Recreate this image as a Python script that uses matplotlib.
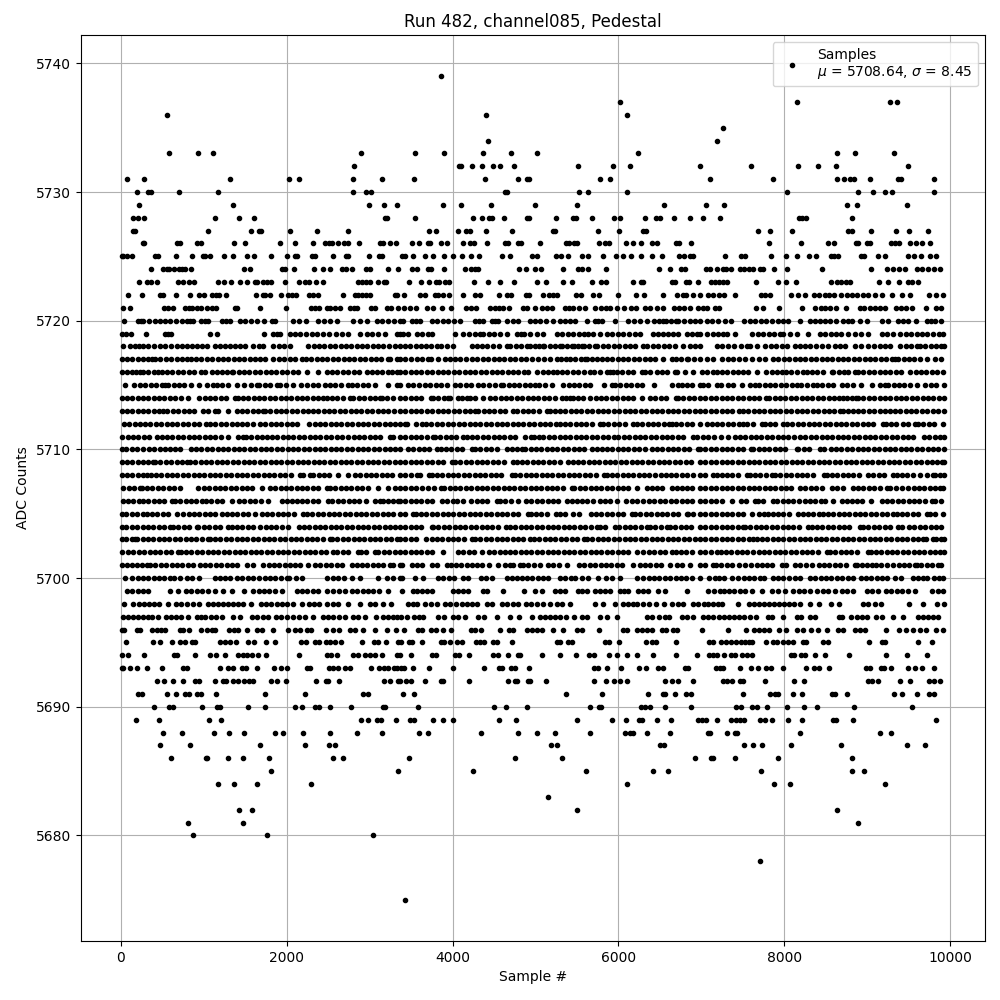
# -*- coding: utf-8 -*-
import matplotlib
matplotlib.use("Agg")
import matplotlib.pyplot as plt

# sample numbers, one list per ADC level
s5739 = [3863]
s5737 = [6022, 8157, 9278, 9363]
s5736 = [559, 4406, 6107]
s5735 = [7264]
s5734 = [4430, 7192]
s5733 = [583, 933, 1113, 2898, 3550, 3900, 4370, 4708, 5021, 6239, 8639, 8856, 9327]
s5732 = [2814, 4081, 4105, 4237, 4358, 4491, 4575, 4744, 5516, 5938, 6143, 6980, 7602, 8169, 8410, 8627, 9496]
s5731 = [76, 281, 1319, 2030, 2151, 2802, 3152, 3538, 4394, 4792, 4901, 4925, 5781, 5902, 7108, 7867, 8639, 8724, 8796, 8844, 9037, 9375, 9411, 9809]
s5730 = [197, 330, 358, 703, 1174, 2802, 2959, 3019, 4635, 4659, 5528, 5636, 6107, 8036, 8892, 9073, 9218, 9303, 9809]
s5729 = [221, 1355, 2995, 3176, 3333, 3888, 4105, 4466, 4997, 5504, 6553, 7059, 7276, 8760, 8880, 9483]
s5728 = [149, 209, 281, 1138, 1427, 1608, 3188, 3212, 3550, 4249, 4358, 4442, 4479, 4623, 4901, 4925, 5250, 5455, 5492, 5685, 5950, 6022, 6324, 6456, 6505, 6673, 6866, 7023, 7228, 8181, 8217, 8265, 8820]
s5727 = [149, 173, 1053, 1572, 1668, 1692, 2042, 2368, 2742, 3719, 3803, 4068, 4165, 4213, 4406, 4720, 5214, 5238, 5757, 6010, 6300, 6336, 7687, 7831, 8097, 8772, 8820, 9049, 9351, 9507, 9737]
s5726 = [269, 281, 679, 716, 921, 969, 1367, 1499, 1922, 2102, 2320, 2464, 2512, 2549, 2621, 2693, 2742, 2874, 3128, 3164, 3248, 3321, 3514, 3598, 3707, 3731, 3863, 3936, 4129, 4213, 4261, 4418, 4635, 4672, 4792, 4828, 5057, 5371, 5407, 5467, 5504, 5769, 5841, 5890, 6095, 6179, 6275, 6408, 6468, 6698, 6734, 6879, 7819, 8205, 8531, 8603, 8868, 8892, 9001, 9037, 9291, 9339, 9387, 9520, 9592, 9664, 9761]
s5725 = [14, 28, 68, 137, 414, 450, 667, 860, 993, 1017, 1077, 1246, 1355, 1523, 1608, 1813, 2006, 2102, 2126, 2307, 2344, 2561, 2717, 2742, 2995, 3116, 3152, 3393, 3429, 3526, 3671, 3767, 3900, 4008, 4117, 4225, 4322, 4599, 4696, 4961, 5021, 5250, 5311, 5395, 5564, 5636, 5817, 5970, 6058, 6155, 6275, 6408, 6529, 6734, 6794, 6866, 6903, 7289, 7481, 7530, 7843, 8024, 8157, 8302, 8386, 8567, 8603, 8651, 8929, 8965, 9134, 9218, 9496, 9568, 9652, 9761, 9833]
s5724 = [366, 511, 559, 583, 643, 703, 740, 776, 848, 1487, 1560, 1946, 1982, 2090, 2332, 2440, 2525, 2669, 2717, 2790, 2959, 3007, 3224, 3345, 3514, 3574, 3707, 3743, 3900, 4153, 4225, 4274, 4310, 4804, 4889, 4997, 5069, 5335, 5516, 5564, 5636, 5853, 6493, 6625, 6758, 6806, 7059, 7108, 7192, 7264, 7301, 7361, 7469, 7518, 7578, 7626, 7711, 7747, 7879, 8036, 8458, 9049, 9242, 9315, 9387, 9459, 9604, 9664, 9737, 9809, 9881]
s5723 = [221, 318, 366, 438, 691, 752, 824, 884, 1174, 1246, 1331, 1439, 1523, 1620, 1644, 1717, 1765, 1813, 1982, 2151, 2223, 2271, 2356, 2440, 2862, 2910, 2959, 3007, 3104, 3176, 3200, 3478, 3622, 3719, 3803, 3839, 3912, 3960, 4261, 4430, 4575, 4744, 5021, 5130, 5335, 5443, 5685, 5793, 5853, 6179, 6275, 6300, 6649, 6685, 6818, 6854, 6963, 7120, 7168, 7216, 7264, 7313, 7662, 7928, 8024, 8145, 8567, 8639, 8688, 8748, 8796, 9146, 9254, 9387, 9496, 9544, 9616]
s5722 = [88, 257, 474, 511, 667, 836, 945, 1005, 1101, 1150, 1186, 1270, 1632, 1717, 1741, 1801, 1934, 2018, 2066, 2114, 2271, 2320, 2380, 2681, 2826, 2862, 2910, 2959, 3007, 3308, 3333, 3417, 3610, 3671, 3791, 3827, 3888, 3960, 4129, 4274, 4334, 4563, 4659, 4708, 4889, 4925, 5094, 5166, 5214, 5262, 5492, 5552, 5697, 5769, 6000, 6215, 6312, 6541, 6710, 6782, 6818, 6903, 6983, 7084, 7144, 7216, 7276, 7409, 7723, 7771, 7831, 8084, 8169, 8253, 8362, 8422, 8494, 8543, 8603, 8688, 8760, 8820, 8880, 8953, 9013, 9097, 9182, 9303, 9423, 9520, 9749, 9833, 9918]
s5721 = [28, 113, 523, 571, 631, 776, 824, 860, 921, 969, 1041, 1101, 1150, 1379, 1403, 1680, 1994, 2295, 2344, 2392, 2488, 2525, 2585, 2645, 2766, 2814, 2850, 3019, 3067, 3212, 3260, 3345, 3417, 3490, 3562, 3695, 3767, 3876, 3984, 4165, 4225, 4286, 4454, 4515, 4563, 4611, 4684, 4852, 4901, 4997, 5082, 5142, 5202, 5359, 5407, 5455, 5528, 5600, 5721, 5793, 5853, 5902, 5986, 6071, 6155, 6215, 6324, 6384, 6468, 6541, 6673, 6734, 6794, 6866, 6963, 7023, 7071, 7168, 7216, 7662, 7747, 7940, 8217, 8374, 8446, 8494, 8555, 8627, 8748, 8917, 8965, 9037, 9097, 9158, 9218, 9351, 9411, 9471, 9544, 9713, 9833, 9893]
s5720 = [40, 209, 240, 269, 342, 410, 470, 530, 590, 660, 731, 792, 835, 872, 969, 1010, 1050, 1214, 1265, 1315, 1435, 1500, 1570, 1636, 1729, 1817, 1857, 2078, 2151, 2235, 2380, 2450, 2525, 2601, 2802, 2880, 2963, 3083, 3150, 3215, 3290, 3365, 3405, 3506, 3560, 3606, 3747, 3815, 3880, 3950, 4020, 4089, 4270, 4320, 4370, 4470, 4515, 4551, 4659, 4732, 4792, 4933, 4995, 5060, 5130, 5214, 5295, 5360, 5420, 5476, 5624, 5717, 5760, 5797, 5958, 6119, 6190, 6259, 6348, 6428, 6490, 6541, 6570, 6635, 6700, 6720, 6790, 6860, 6925, 6983, 7063, 7130, 7205, 7285, 7361, 7518, 7586, 7650, 7720, 7785, 7850, 7920, 7988, 8048, 8189, 8310, 8370, 8430, 8490, 8551, 8623, 8712, 8765, 8812, 8912, 8993, 9174, 9254, 9375, 9430, 9496, 9588, 9717, 9770, 9817, 9897]
s5719 = [14, 60, 118, 305, 526, 565, 607, 1073, 1154, 1729, 1837, 1880, 1918, 2038, 2100, 2165, 2230, 2300, 2370, 2440, 2510, 2590, 2665, 2742, 2882, 2963, 3023, 3104, 3184, 3325, 3365, 3405, 3466, 3566, 3635, 3707, 3755, 4032, 4129, 4195, 4265, 4330, 4370, 4435, 4505, 4571, 4652, 4780, 4820, 4860, 4933, 5015, 5094, 5254, 5320, 5390, 5455, 5524, 5580, 5636, 5697, 5777, 5857, 5925, 5990, 6060, 6125, 6195, 6259, 6420, 6480, 6541, 6600, 6661, 6722, 6822, 6890, 6945, 6983, 7063, 7144, 7205, 7264, 7313, 7405, 7606, 7687, 7747, 7815, 7880, 7945, 7988, 8068, 8149, 8289, 8430, 8495, 8560, 8625, 8690, 8770, 8852, 8932, 9013, 9174, 9245, 9315, 9395, 9465, 9530, 9600, 9660, 9717, 9797, 9865, 9915]
s5718 = [28, 108, 165, 220, 270, 330, 395, 465, 530, 600, 680, 736, 795, 860, 920, 980, 1033, 1133, 1190, 1250, 1310, 1375, 1435, 1500, 1596, 1660, 1717, 1837, 1905, 1970, 2038, 2259, 2325, 2385, 2450, 2520, 2580, 2650, 2710, 2780, 2845, 2905, 2970, 3035, 3095, 3165, 3230, 3300, 3365, 3425, 3490, 3555, 3615, 3680, 3745, 3807, 3855, 3930, 4008, 4229, 4290, 4355, 4420, 4485, 4560, 4651, 4692, 4760, 4830, 4900, 4935, 4995, 5045, 5085, 5100, 5170, 5235, 5300, 5320, 5380, 5440, 5460, 5510, 5560, 5590, 5650, 5720, 5737, 5817, 5880, 5945, 6010, 6075, 6140, 6205, 6300, 6348, 6412, 6480, 6545, 6610, 6680, 6780, 6860, 6925, 6983, 7184, 7255, 7320, 7400, 7480, 7546, 7586, 7674, 7767, 7840, 7905, 7975, 8036, 8129, 8190, 8249, 8310, 8385, 8460, 8530, 8611, 8670, 8732, 8852, 8930, 9013, 9081, 9150, 9210, 9274, 9395, 9465, 9530, 9596, 9636, 9700, 9765, 9830, 9890, 9925]
s5717 = [14, 75, 135, 205, 270, 330, 378, 410, 475, 540, 605, 670, 735, 792, 840, 905, 970, 1035, 1100, 1165, 1230, 1295, 1360, 1425, 1490, 1555, 1620, 1680, 1738, 1837, 1905, 1970, 2038, 2098, 2179, 2227, 2290, 2360, 2425, 2490, 2555, 2620, 2685, 2750, 2815, 2880, 2945, 3010, 3075, 3140, 3224, 3244, 3325, 3365, 3430, 3495, 3565, 3635, 3707, 3735, 3827, 3908, 3970, 4030, 4089, 4157, 4237, 4300, 4365, 4430, 4495, 4560, 4625, 4690, 4755, 4820, 4885, 4953, 5033, 5100, 5174, 5254, 5310, 5367, 5415, 5480, 5545, 5596, 5620, 5680, 5736, 5797, 5860, 5925, 5990, 6058, 6119, 6185, 6250, 6315, 6380, 6445, 6541, 6641, 6700, 6760, 6822, 6842, 6910, 6983, 7063, 7136, 7244, 7325, 7385, 7455, 7526, 7606, 7690, 7767, 7867, 7930, 7995, 8060, 8125, 8190, 8255, 8320, 8385, 8450, 8515, 8580, 8645, 8710, 8775, 8840, 8905, 8970, 9035, 9100, 9165, 9230, 9295, 9335, 9375, 9440, 9505, 9570, 9635, 9717, 9817, 9897]
s5716 = [14, 68, 137, 180, 229, 269, 330, 395, 450, 490, 555, 620, 685, 750, 815, 880, 970, 1009, 1093, 1154, 1215, 1280, 1335, 1355, 1420, 1485, 1550, 1615, 1680, 1745, 1810, 1875, 1940, 2005, 2070, 2135, 2239, 2380, 2480, 2545, 2610, 2675, 2740, 2805, 2870, 2963, 3023, 3085, 3150, 3215, 3264, 3325, 3365, 3430, 3495, 3560, 3625, 3690, 3755, 3820, 3885, 3950, 4015, 4080, 4145, 4210, 4275, 4340, 4405, 4470, 4535, 4600, 4665, 4730, 4795, 4860, 4913, 5021, 5085, 5150, 5214, 5254, 5320, 5385, 5450, 5515, 5580, 5656, 5709, 5780, 5857, 5897, 5938, 5978, 6045, 6110, 6175, 6279, 6320, 6385, 6460, 6521, 6585, 6680, 6703, 6800, 6903, 7003, 7070, 7144, 7184, 7250, 7315, 7380, 7445, 7506, 7566, 7666, 7779, 7850, 7916, 7968, 8020, 8085, 8150, 8221, 8269, 8335, 8400, 8465, 8571, 8591, 8655, 8720, 8772, 8852, 8892, 8955, 9020, 9085, 9150, 9215, 9280, 9345, 9410, 9516, 9588, 9650, 9715, 9780, 9845, 9920]
s5715 = [52, 161, 229, 295, 360, 425, 490, 530, 571, 635, 700, 765, 841, 945, 1041, 1105, 1160, 1214, 1294, 1395, 1483, 1565, 1644, 1668, 1735, 1800, 1877, 1918, 1985, 2078, 2167, 2240, 2320, 2380, 2460, 2521, 2585, 2650, 2742, 2782, 2850, 2915, 2980, 3063, 3220, 3325, 3365, 3465, 3526, 3598, 3665, 3730, 3795, 3860, 3928, 4028, 4095, 4160, 4225, 4310, 4362, 4442, 4511, 4590, 4611, 4675, 4740, 4805, 4870, 4935, 4993, 5045, 5114, 5194, 5335, 5400, 5465, 5530, 5595, 5656, 5825, 5918, 5958, 6025, 6090, 6155, 6220, 6280, 6428, 6641, 6722, 6770, 6822, 6883, 6983, 7023, 7084, 7184, 7232, 7325, 7385, 7486, 7586, 7646, 7699, 7767, 7830, 7895, 7960, 8025, 8090, 8149, 8197, 8270, 8350, 8390, 8460, 8530, 8591, 8692, 8760, 8832, 8925, 9061, 9154, 9214, 9254, 9320, 9385, 9450, 9515, 9604, 9697, 9765, 9830, 9922]
s5714 = [14, 70, 135, 200, 265, 330, 395, 460, 525, 590, 655, 720, 809, 945, 1010, 1075, 1140, 1205, 1270, 1375, 1415, 1475, 1536, 1600, 1665, 1730, 1795, 1860, 1925, 1990, 2055, 2120, 2185, 2250, 2315, 2380, 2440, 2480, 2545, 2610, 2675, 2762, 2802, 2870, 2935, 3000, 3065, 3124, 3144, 3212, 3280, 3365, 3430, 3495, 3560, 3625, 3735, 3767, 3830, 3895, 3948, 3968, 4068, 4109, 4169, 4209, 4275, 4362, 4450, 4515, 4580, 4645, 4710, 4775, 4840, 4905, 4970, 5035, 5100, 5165, 5230, 5315, 5363, 5415, 5455, 5516, 5568, 5658, 5725, 5790, 5855, 5920, 5985, 6050, 6115, 6180, 6280, 6380, 6445, 6510, 6575, 6700, 6720, 6785, 6850, 6915, 6983, 7050, 7115, 7180, 7245, 7310, 7375, 7440, 7505, 7570, 7635, 7700, 7779, 7819, 7885, 7950, 8015, 8080, 8145, 8210, 8275, 8340, 8405, 8470, 8535, 8600, 8665, 8712, 8752, 8820, 8872, 8892, 8955, 9020, 9085, 9150, 9215, 9280, 9345, 9410, 9475, 9540, 9605, 9670, 9735, 9800, 9865, 9922]
s5713 = [14, 70, 135, 200, 265, 330, 395, 460, 510, 559, 625, 690, 755, 820, 885, 993, 1053, 1133, 1174, 1294, 1395, 1460, 1525, 1590, 1655, 1716, 1736, 1800, 1865, 1930, 1995, 2060, 2125, 2190, 2255, 2320, 2380, 2445, 2510, 2575, 2640, 2705, 2770, 2835, 2900, 2965, 3030, 3095, 3160, 3225, 3290, 3365, 3430, 3495, 3560, 3625, 3690, 3755, 3820, 3885, 3950, 4015, 4080, 4145, 4210, 4270, 4310, 4375, 4440, 4505, 4570, 4635, 4724, 4780, 4845, 4910, 4975, 5040, 5134, 5174, 5234, 5295, 5360, 5425, 5490, 5555, 5620, 5685, 5750, 5815, 5880, 5945, 6010, 6075, 6140, 6205, 6270, 6335, 6400, 6465, 6530, 6595, 6660, 6725, 6790, 6855, 6920, 6983, 7050, 7115, 7180, 7245, 7310, 7375, 7457, 7498, 7565, 7630, 7695, 7760, 7825, 7890, 7955, 8020, 8085, 8150, 8215, 8280, 8345, 8410, 8475, 8540, 8605, 8670, 8712, 8772, 8824, 8890, 8955, 9020, 9085, 9150, 9215, 9282, 9335, 9400, 9465, 9530, 9595, 9660, 9725, 9790, 9855, 9925]
s5712 = [36, 100, 165, 229, 289, 355, 420, 485, 550, 615, 680, 745, 810, 875, 940, 1025, 1073, 1140, 1205, 1270, 1335, 1395, 1460, 1515, 1596, 1676, 1740, 1805, 1870, 1935, 2000, 2065, 2119, 2271, 2335, 2400, 2465, 2530, 2595, 2660, 2725, 2790, 2855, 2920, 2985, 3050, 3115, 3180, 3245, 3310, 3365, 3425, 3445, 3558, 3626, 3679, 3745, 3807, 3868, 3948, 4008, 4075, 4140, 4205, 4270, 4335, 4400, 4465, 4530, 4595, 4660, 4725, 4790, 4855, 4920, 4985, 5050, 5115, 5180, 5245, 5295, 5355, 5420, 5485, 5550, 5615, 5680, 5777, 5817, 5880, 5945, 6010, 6075, 6179, 6227, 6290, 6355, 6420, 6481, 6545, 6610, 6641, 6700, 6760, 6822, 6883, 6983, 7071, 7124, 7190, 7255, 7320, 7385, 7450, 7506, 7554, 7620, 7727, 7767, 7830, 7895, 7980, 8036, 8100, 8165, 8230, 8295, 8360, 8425, 8490, 8555, 8620, 8685, 8750, 8815, 8880, 8945, 9010, 9075, 9186, 9222, 9285, 9350, 9435, 9495, 9576, 9616, 9680, 9745, 9810, 9910]
s5711 = [16, 80, 145, 210, 275, 340, 430, 490, 555, 620, 685, 750, 815, 880, 945, 1010, 1075, 1140, 1205, 1294, 1415, 1475, 1503, 1570, 1635, 1696, 1757, 1820, 1885, 1950, 2015, 2080, 2145, 2210, 2275, 2340, 2405, 2470, 2535, 2601, 2661, 2742, 2805, 2870, 2935, 3000, 3065, 3130, 3244, 3284, 3365, 3430, 3495, 3560, 3625, 3690, 3759, 3787, 3850, 3915, 3980, 4045, 4129, 4169, 4235, 4300, 4365, 4430, 4495, 4560, 4625, 4690, 4752, 4873, 4941, 4981, 5045, 5094, 5160, 5225, 5290, 5355, 5420, 5485, 5550, 5615, 5680, 5745, 5810, 5875, 5946, 5998, 6065, 6130, 6195, 6260, 6325, 6390, 6455, 6520, 6585, 6650, 6715, 6780, 6895, 6943, 7023, 7083, 7150, 7232, 7325, 7405, 7465, 7530, 7595, 7660, 7725, 7790, 7855, 7920, 7985, 8050, 8115, 8189, 8249, 8322, 8385, 8450, 8515, 8580, 8645, 8710, 8775, 8840, 8905, 8970, 9035, 9100, 9165, 9230, 9295, 9355, 9435, 9495, 9556, 9684, 9750, 9815, 9880, 9925]
s5710 = [14, 65, 130, 197, 269, 335, 400, 465, 530, 595, 650, 711, 840, 905, 970, 1035, 1100, 1165, 1230, 1295, 1360, 1425, 1490, 1555, 1620, 1685, 1750, 1815, 1880, 1945, 2010, 2075, 2140, 2205, 2270, 2335, 2400, 2465, 2530, 2595, 2660, 2725, 2790, 2855, 2920, 2985, 3050, 3115, 3180, 3245, 3310, 3365, 3465, 3526, 3590, 3655, 3720, 3807, 3855, 3920, 3985, 4050, 4115, 4229, 4270, 4335, 4400, 4465, 4530, 4651, 4712, 4775, 4832, 4873, 4940, 5005, 5070, 5135, 5200, 5265, 5330, 5395, 5460, 5525, 5590, 5677, 5737, 5797, 5860, 5925, 5990, 6055, 6120, 6185, 6250, 6315, 6400, 6468, 6530, 6595, 6660, 6725, 6790, 6855, 6963, 6983, 7050, 7115, 7180, 7245, 7310, 7375, 7440, 7505, 7594, 7626, 7690, 7755, 7820, 7885, 7950, 8015, 8149, 8169, 8235, 8300, 8430, 8482, 8559, 8625, 8690, 8755, 8820, 8885, 8950, 9015, 9080, 9145, 9210, 9275, 9340, 9405, 9470, 9535, 9600, 9665, 9730, 9795, 9860, 9927]
s5709 = [14, 70, 135, 200, 265, 330, 382, 410, 475, 540, 605, 670, 735, 800, 832, 895, 960, 1025, 1090, 1155, 1220, 1285, 1350, 1415, 1480, 1545, 1610, 1675, 1740, 1805, 1870, 1935, 2000, 2065, 2130, 2195, 2260, 2325, 2390, 2455, 2520, 2585, 2650, 2715, 2780, 2845, 2910, 2975, 3040, 3105, 3170, 3235, 3300, 3365, 3430, 3495, 3560, 3625, 3690, 3755, 3820, 3885, 3988, 4028, 4095, 4160, 4225, 4290, 4355, 4420, 4485, 4550, 4615, 4724, 4772, 4835, 4900, 4965, 5030, 5095, 5160, 5225, 5290, 5395, 5447, 5510, 5575, 5640, 5705, 5770, 5835, 5900, 5965, 6030, 6095, 6160, 6225, 6290, 6355, 6420, 6485, 6550, 6615, 6680, 6745, 6810, 6875, 6983, 7050, 7115, 7180, 7245, 7310, 7375, 7440, 7505, 7570, 7635, 7700, 7765, 7830, 7895, 7960, 8025, 8090, 8155, 8220, 8285, 8350, 8415, 8480, 8545, 8610, 8675, 8740, 8805, 8870, 8935, 9000, 9065, 9130, 9195, 9260, 9325, 9390, 9455, 9520, 9585, 9656, 9717, 9780, 9845, 9905, 9925]
s5708 = [14, 70, 135, 200, 265, 317, 358, 420, 485, 550, 615, 680, 745, 810, 875, 940, 1005, 1070, 1135, 1200, 1265, 1330, 1395, 1460, 1525, 1590, 1655, 1720, 1785, 1850, 1915, 1980, 2045, 2159, 2191, 2279, 2320, 2385, 2450, 2515, 2621, 2742, 2822, 2885, 2950, 3015, 3080, 3145, 3210, 3275, 3365, 3430, 3495, 3566, 3606, 3719, 3747, 3810, 3875, 3940, 4005, 4070, 4135, 4200, 4265, 4330, 4395, 4460, 4525, 4590, 4712, 4752, 4815, 4880, 4945, 5010, 5075, 5140, 5205, 5270, 5335, 5400, 5465, 5530, 5595, 5660, 5725, 5825, 5857, 5920, 5985, 6050, 6115, 6180, 6245, 6310, 6375, 6440, 6509, 6569, 6635, 6700, 6765, 6830, 6895, 6983, 7043, 7136, 7192, 7244, 7310, 7375, 7440, 7546, 7586, 7646, 7710, 7775, 7847, 7888, 7955, 8020, 8085, 8150, 8215, 8280, 8345, 8479, 8511, 8575, 8640, 8705, 8770, 8835, 8900, 9013, 9073, 9140, 9205, 9315, 9355, 9420, 9485, 9550, 9636, 9717, 9789, 9817, 9885, 9925]
s5707 = [28, 95, 160, 229, 249, 315, 380, 445, 510, 575, 640, 712, 933, 1000, 1065, 1130, 1195, 1260, 1325, 1390, 1455, 1520, 1585, 1696, 1797, 1860, 1925, 1990, 2055, 2120, 2185, 2250, 2315, 2380, 2480, 2521, 2585, 2650, 2715, 2780, 2845, 2910, 2975, 3104, 3224, 3305, 3365, 3430, 3495, 3560, 3626, 3707, 3780, 3855, 3900, 3965, 4030, 4095, 4160, 4225, 4290, 4355, 4420, 4485, 4550, 4615, 4680, 4745, 4810, 4875, 4940, 5005, 5070, 5135, 5200, 5265, 5330, 5435, 5463, 5536, 5600, 5665, 5730, 5795, 5860, 5925, 5990, 6055, 6120, 6219, 6340, 6405, 6470, 6521, 6641, 6702, 6762, 6825, 6890, 6983, 7050, 7115, 7180, 7245, 7310, 7375, 7440, 7505, 7570, 7635, 7700, 7765, 7830, 7895, 7960, 8025, 8088, 8189, 8255, 8320, 8385, 8450, 8571, 8631, 8712, 8824, 8890, 8955, 9020, 9085, 9150, 9234, 9282, 9345, 9415, 9495, 9560, 9625, 9690, 9755, 9820, 9885, 9920]
s5706 = [20, 85, 150, 215, 269, 330, 395, 460, 525, 611, 651, 715, 780, 845, 910, 973, 1025, 1090, 1155, 1220, 1335, 1427, 1490, 1555, 1620, 1685, 1777, 1938, 2000, 2058, 2119, 2185, 2250, 2315, 2380, 2500, 2549, 2615, 2680, 2745, 2810, 2875, 2950, 3067, 3120, 3164, 3224, 3285, 3345, 3365, 3430, 3495, 3560, 3625, 3690, 3755, 3868, 3928, 4000, 4048, 4121, 4217, 4290, 4355, 4420, 4531, 4571, 4635, 4700, 4792, 4885, 4950, 5015, 5080, 5145, 5210, 5275, 5375, 5435, 5496, 5560, 5625, 5690, 5777, 5837, 5900, 5978, 6090, 6160, 6227, 6300, 6372, 6435, 6500, 6565, 6630, 6695, 6762, 6822, 6890, 6983, 7050, 7115, 7180, 7245, 7365, 7473, 7540, 7646, 7687, 7750, 7859, 7916, 7985, 8050, 8109, 8181, 8245, 8310, 8375, 8440, 8491, 8591, 8692, 8760, 8820, 8880, 8933, 9041, 9174, 9240, 9305, 9370, 9435, 9500, 9565, 9630, 9695, 9777, 9817, 9897]
s5705 = [14, 65, 130, 195, 269, 318, 380, 438, 502, 570, 671, 751, 815, 880, 945, 1010, 1075, 1140, 1214, 1274, 1340, 1405, 1470, 1535, 1616, 1696, 1760, 1825, 1890, 1955, 2020, 2085, 2199, 2247, 2310, 2375, 2440, 2505, 2570, 2635, 2700, 2765, 2830, 2895, 2960, 3025, 3090, 3155, 3220, 3285, 3365, 3430, 3526, 3558, 3620, 3685, 3750, 3815, 3880, 3945, 4010, 4075, 4140, 4205, 4270, 4335, 4400, 4465, 4530, 4595, 4660, 4725, 4790, 4913, 4941, 5005, 5070, 5135, 5246, 5295, 5360, 5455, 5524, 5665, 5730, 5795, 5860, 5925, 5990, 6055, 6159, 6199, 6265, 6330, 6395, 6460, 6525, 6590, 6655, 6720, 6822, 6842, 6905, 6983, 7050, 7115, 7180, 7245, 7310, 7375, 7440, 7505, 7606, 7699, 7760, 7807, 7867, 7928, 7990, 8055, 8169, 8221, 8285, 8350, 8422, 8462, 8525, 8590, 8655, 8720, 8785, 8850, 8915, 8980, 9045, 9110, 9175, 9240, 9307, 9355, 9420, 9485, 9550, 9615, 9717, 9757, 9820, 9918]
s5704 = [14, 65, 130, 195, 260, 325, 390, 455, 520, 590, 623, 690, 755, 820, 912, 933, 1000, 1065, 1130, 1195, 1294, 1335, 1400, 1465, 1530, 1595, 1680, 1745, 1810, 1875, 1940, 2018, 2143, 2205, 2270, 2335, 2400, 2465, 2530, 2595, 2660, 2725, 2790, 2855, 2920, 2985, 3050, 3115, 3180, 3245, 3310, 3365, 3430, 3495, 3560, 3625, 3747, 3767, 3830, 3895, 3960, 4025, 4090, 4155, 4220, 4285, 4350, 4415, 4480, 4545, 4645, 4692, 4755, 4820, 4885, 4950, 5015, 5080, 5145, 5210, 5275, 5340, 5405, 5470, 5535, 5600, 5665, 5745, 5777, 5840, 5958, 6010, 6075, 6140, 6205, 6270, 6340, 6380, 6445, 6510, 6581, 6621, 6685, 6750, 6815, 6880, 6983, 7050, 7115, 7180, 7245, 7310, 7375, 7440, 7506, 7526, 7590, 7655, 7720, 7785, 7850, 7915, 7980, 8045, 8110, 8175, 8289, 8330, 8395, 8460, 8525, 8590, 8655, 8720, 8785, 8913, 8953, 9015, 9080, 9145, 9210, 9275, 9375, 9415, 9507, 9570, 9635, 9700, 9765, 9830, 9897]
s5703 = [14, 65, 130, 170, 197, 260, 325, 390, 455, 520, 585, 650, 715, 780, 845, 910, 975, 1053, 1073, 1135, 1200, 1265, 1330, 1395, 1460, 1525, 1590, 1655, 1720, 1785, 1850, 1915, 1980, 2045, 2110, 2175, 2240, 2305, 2370, 2435, 2521, 2549, 2610, 2675, 2740, 2805, 2870, 2935, 3000, 3065, 3130, 3195, 3260, 3325, 3365, 3430, 3495, 3560, 3679, 3747, 3810, 3875, 3940, 4005, 4070, 4135, 4229, 4270, 4335, 4400, 4465, 4530, 4595, 4660, 4725, 4790, 4855, 4933, 4981, 5045, 5110, 5175, 5240, 5305, 5370, 5435, 5500, 5584, 5624, 5685, 5750, 5815, 5880, 5945, 6010, 6075, 6140, 6205, 6270, 6335, 6400, 6465, 6530, 6595, 6660, 6725, 6790, 6855, 6920, 6983, 7050, 7115, 7180, 7245, 7310, 7375, 7440, 7505, 7570, 7626, 7666, 7730, 7795, 7860, 7925, 7990, 8055, 8120, 8185, 8250, 8315, 8380, 8445, 8510, 8575, 8640, 8705, 8770, 8835, 8900, 8965, 9030, 9095, 9160, 9225, 9290, 9355, 9420, 9485, 9550, 9615, 9676, 9709, 9789, 9829, 9890, 9927]
s5702 = [16, 88, 150, 215, 280, 345, 410, 475, 540, 605, 691, 720, 785, 850, 915, 980, 1045, 1110, 1175, 1240, 1305, 1370, 1435, 1500, 1565, 1630, 1695, 1760, 1825, 1890, 1955, 2020, 2085, 2150, 2215, 2280, 2345, 2410, 2475, 2561, 2609, 2675, 2740, 2862, 2890, 2955, 3063, 3104, 3170, 3235, 3300, 3365, 3430, 3495, 3560, 3625, 3690, 3755, 3888, 4068, 4130, 4195, 4260, 4350, 4442, 4505, 4570, 4631, 4692, 4755, 4820, 4885, 4950, 5015, 5080, 5145, 5210, 5275, 5340, 5405, 5470, 5535, 5600, 5665, 5730, 5795, 5860, 5925, 5990, 6055, 6120, 6219, 6300, 6372, 6435, 6500, 6565, 6641, 6693, 6755, 6820, 6885, 6983, 7050, 7120, 7192, 7232, 7295, 7360, 7425, 7490, 7554, 7626, 7690, 7755, 7820, 7885, 7950, 8015, 8080, 8145, 8210, 8275, 8340, 8405, 8519, 8551, 8615, 8680, 8745, 8810, 8875, 9005, 9041, 9105, 9170, 9235, 9300, 9365, 9430, 9495, 9560, 9625, 9690, 9755, 9820, 9885, 9925]
s5701 = [14, 70, 129, 189, 250, 309, 350, 415, 480, 545, 610, 675, 740, 805, 870, 953, 1017, 1080, 1145, 1210, 1275, 1340, 1405, 1515, 1596, 1717, 1780, 1845, 1910, 1978, 2038, 2100, 2165, 2259, 2340, 2405, 2470, 2535, 2600, 2665, 2782, 2842, 2905, 2970, 3035, 3100, 3165, 3244, 3284, 3365, 3393, 3506, 3570, 3635, 3747, 3807, 3928, 3985, 4040, 4097, 4169, 4230, 4290, 4350, 4442, 4551, 4631, 4692, 4732, 4812, 4852, 4915, 4980, 5053, 5154, 5215, 5280, 5383, 5528, 5590, 5655, 5720, 5785, 5850, 5915, 5980, 6045, 6179, 6259, 6320, 6385, 6450, 6515, 6621, 6702, 6762, 6862, 6983, 7050, 7136, 7176, 7240, 7305, 7370, 7457, 7526, 7595, 7666, 7727, 7790, 7855, 7968, 8020, 8129, 8190, 8260, 8330, 8422, 8485, 8543, 8611, 8675, 8740, 8852, 8880, 8933, 9000, 9065, 9105, 9170, 9234, 9315, 9380, 9445, 9510, 9576, 9604, 9656, 9720, 9785, 9850, 9897]
s5700 = [52, 137, 200, 265, 330, 395, 460, 525, 591, 639, 712, 792, 852, 945, 1133, 1195, 1260, 1315, 1403, 1465, 1530, 1595, 1660, 1737, 1797, 1860, 1925, 1998, 2030, 2111, 2187, 2480, 2561, 2621, 2690, 2782, 2882, 3104, 3204, 3284, 3365, 3393, 3550, 3646, 3827, 3890, 3955, 4020, 4129, 4189, 4342, 4405, 4471, 4660, 4720, 4772, 4832, 4895, 4960, 5025, 5094, 5154, 5295, 5360, 5425, 5476, 5556, 5636, 5757, 5849, 5918, 6018, 6227, 6300, 6365, 6430, 6495, 6560, 6625, 6690, 6755, 6820, 6885, 6983, 7096, 7164, 7216, 7272, 7369, 7445, 7510, 7575, 7640, 7707, 7759, 7867, 7925, 7988, 8060, 8125, 8189, 8310, 8375, 8440, 8505, 8570, 8635, 8700, 8765, 8832, 8921, 8985, 9050, 9115, 9174, 9242, 9335, 9403, 9548, 9610, 9675, 9725, 9805, 9870, 9915]
s5699 = [68, 135, 200, 265, 330, 591, 691, 784, 850, 915, 980, 1045, 1133, 1234, 1335, 1483, 1596, 1660, 1725, 1790, 1855, 1938, 2119, 2185, 2250, 2315, 2380, 2480, 2561, 2630, 2701, 2782, 2850, 2915, 2980, 3045, 3110, 3224, 3393, 3518, 3575, 3626, 3687, 3747, 4008, 4070, 4130, 4189, 4362, 4410, 4603, 4865, 4993, 5074, 5234, 5295, 5355, 5516, 5565, 5616, 5717, 5780, 5840, 5898, 6018, 6070, 6119, 6239, 6300, 6360, 6481, 6561, 6830, 7084, 7150, 7224, 7272, 7335, 7400, 7465, 7530, 7606, 7727, 7847, 7925, 8008, 8109, 8175, 8240, 8310, 8390, 8462, 8525, 8611, 8692, 8760, 8832, 8993, 9060, 9134, 9226, 9290, 9355, 9420, 9495, 9576, 9777, 9850, 9915]
s5698 = [40, 149, 221, 281, 342, 402, 462, 571, 667, 728, 800, 872, 945, 1053, 1113, 1174, 1234, 1294, 1355, 1415, 1475, 1572, 1692, 1753, 1813, 1885, 1946, 2006, 2078, 2187, 2271, 2332, 2392, 2488, 2561, 2621, 2738, 2886, 3007, 3067, 3164, 3260, 3466, 3526, 3574, 3671, 3743, 3815, 3912, 3972, 4044, 4117, 4177, 4237, 4298, 4418, 4479, 4599, 4659, 4732, 4792, 4889, 4949, 5021, 5094, 5178, 5262, 5323, 5419, 5721, 5817, 5962, 6058, 6119, 6179, 6227, 6300, 6372, 6456, 6553, 6649, 6722, 6782, 6903, 6963, 7035, 7084, 7144, 7204, 7252, 7445, 7578, 7638, 7699, 7759, 7819, 7879, 7940, 8000, 8060, 8121, 8193, 8314, 8422, 8567, 8663, 8953, 9013, 9097, 9170, 9507, 9676, 9845, 9922]
s5697 = [28, 88, 149, 209, 269, 330, 378, 450, 547, 607, 667, 728, 812, 921, 969, 1017, 1089, 1150, 1222, 1355, 1439, 1584, 1644, 1717, 1777, 1873, 1934, 2006, 2078, 2151, 2223, 2320, 2440, 2500, 2561, 2633, 2705, 2802, 2862, 2947, 3079, 3164, 3224, 3284, 3333, 3381, 3453, 3538, 3598, 3646, 3827, 3900, 4008, 4068, 4153, 4310, 4382, 4539, 4696, 4804, 4961, 5057, 5118, 5178, 5238, 5299, 5371, 5467, 5564, 5624, 5781, 5865, 5986, 6348, 6408, 6493, 6565, 6613, 6770, 6830, 6903, 7023, 7084, 7144, 7216, 7276, 7337, 7397, 7457, 7518, 7590, 7662, 7807, 7855, 7988, 8157, 8205, 8314, 8374, 8663, 8700, 8808, 8880, 8941, 9001, 9110, 9182, 9315, 9435, 9616, 9676, 9737, 9797, 9857]
s5696 = [14, 40, 197, 233, 378, 438, 486, 535, 716, 752, 824, 969, 1041, 1101, 1138, 1307, 1367, 1415, 1523, 1644, 1705, 1837, 2018, 2102, 2163, 2247, 2295, 2476, 2561, 2633, 2766, 2826, 2922, 3067, 3212, 3321, 3417, 3586, 3634, 3743, 3803, 3888, 3984, 4225, 4274, 4346, 4575, 4684, 4732, 4901, 4961, 5021, 5082, 5214, 5335, 5504, 5564, 5769, 6058, 6107, 6227, 6287, 6348, 6408, 6529, 6577, 6662, 6710, 7011, 7325, 7542, 7638, 7699, 7759, 7819, 7940, 8024, 8157, 8229, 8326, 8410, 8519, 8651, 8712, 8856, 8917, 8977, 9230, 9387, 9471, 9556, 9640, 9713, 9833, 9918]
s5695 = [64, 390, 474, 619, 716, 776, 860, 896, 1198, 1258, 1319, 1391, 1536, 1608, 1753, 1861, 2175, 2235, 2344, 2392, 2476, 2525, 2585, 2657, 2910, 3055, 3104, 3200, 3345, 3381, 3478, 3514, 3634, 3863, 3900, 3972, 4056, 4117, 4286, 4334, 4382, 4491, 4539, 4720, 5262, 5299, 5395, 5443, 5841, 5890, 6010, 6336, 6408, 6456, 6698, 7096, 7144, 7240, 7301, 7361, 7421, 7481, 7530, 7578, 7614, 7783, 7867, 7916, 7988, 8048, 8109, 8229, 8265, 8470, 8531, 9025, 9182, 9218, 9616, 9785]
s5694 = [14, 88, 281, 643, 679, 896, 1077, 1150, 1258, 1415, 1475, 1523, 1584, 1656, 1753, 2147, 2488, 2537, 2609, 2802, 2862, 2947, 3007, 3067, 3152, 3333, 3365, 3502, 3755, 3803, 4032, 4081, 4201, 4491, 4551, 4672, 4792, 4816, 5082, 5299, 5492, 5648, 5709, 5890, 5986, 6107, 6227, 6420, 6698, 6951, 7096, 7144, 7192, 7276, 7361, 7409, 7493, 7554, 7614, 8084, 8121, 8205, 8253, 8374, 8494, 8784, 9230, 9483, 9724]
s5693 = [14, 28, 113, 197, 318, 498, 752, 800, 1198, 1294, 1355, 1463, 1511, 1644, 1849, 1934, 2006, 2247, 2283, 2512, 2561, 2621, 2705, 2766, 3019, 3116, 3176, 3224, 3297, 3333, 3381, 3417, 3526, 3719, 4008, 4382, 4563, 4599, 4708, 4756, 4925, 5709, 5757, 5865, 6034, 6251, 6336, 6481, 6541, 6806, 6842, 7180, 7228, 7264, 7469, 7602, 7687, 7783, 7843, 7988, 8265, 8362, 8422, 8543, 8989, 9037, 9170, 9206, 9291, 9496, 9580, 9664, 9809]
s5692 = [438, 523, 631, 752, 896, 945, 1138, 1234, 1270, 1355, 1415, 1487, 1548, 1596, 1813, 1885, 1994, 2356, 2476, 2500, 2633, 3176, 3248, 3345, 3365, 3441, 3502, 3671, 3863, 3888, 4201, 4672, 4756, 4780, 4913, 4937, 5130, 5709, 5853, 5950, 6022, 6107, 6565, 6649, 6722, 6903, 7264, 7313, 7373, 7469, 7506, 7771, 8121, 8241, 9013, 9061, 9134, 9399, 9520, 9749, 9809, 9881]
s5691 = [209, 257, 559, 667, 776, 824, 921, 969, 1150, 1741, 2223, 2922, 2983, 3405, 3538, 5371, 5805, 6360, 6541, 6565, 6686, 6818, 6879, 7506, 7831, 7891, 7928, 8109, 8217, 8579, 8615, 8760, 9327, 9423, 9604, 9749, 9809]
s5690 = [402, 583, 631, 981, 1162, 1198, 1536, 1741, 2102, 2187, 2344, 2392, 2525, 2778, 3164, 3188, 3586, 4503, 4647, 4901, 5660, 5769, 5793, 6275, 6324, 6384, 6565, 6879, 7421, 7481, 7614, 7674, 7795, 8036, 8241, 8398, 8844, 9544]
s5689 = [185, 462, 1065, 1210, 2898, 2983, 3091, 3140, 3321, 3490, 3538, 3767, 3888, 4008, 4563, 4768, 5504, 5926, 6095, 6251, 6287, 6468, 6637, 6963, 7011, 7059, 7192, 7361, 7421, 7469, 7518, 7711, 7771, 7855, 8048, 8217, 8591, 8627, 8832, 9833]
s5688 = [511, 740, 1126, 1307, 1487, 1861, 1958, 2199, 2525, 2850, 3152, 3598, 3707, 4346, 4792, 5021, 5238, 5660, 6083, 6143, 6179, 6348, 6625, 7084, 7108, 7313, 7409, 7433, 8193, 9158, 9291]
s5687 = [474, 836, 1680, 2223, 2512, 2585, 5190, 5262, 6505, 6553, 7518, 7626, 7735, 8084, 8687, 9483, 9700]
s5686 = [607, 1029, 1041, 1294, 1475, 1789, 2561, 2681, 3478, 4756, 5323, 6927, 7120, 7144, 7409, 7928, 8820]
s5685 = [1813, 3345, 4249, 5612, 6420, 6601, 7723, 8820, 8965]
s5684 = [1174, 1367, 1644, 2295, 6107, 7879, 8072, 9218]
s5683 = [5154]
s5682 = [1427, 1584, 5504, 8639]
s5681 = [812, 1475, 8892]
s5680 = [872, 1765, 3043]
s5678 = [7711]
s5675 = [3429]

levels = [5739, 5737, 5736, 5735, 5734, 5733, 5732, 5731, 5730, 5729, 5728, 5727, 5726, 5725, 5724, 5723, 5722, 5721, 5720,
          5719, 5718, 5717, 5716, 5715, 5714, 5713, 5712, 5711, 5710, 5709, 5708, 5707, 5706, 5705, 5704, 5703, 5702, 5701, 5700,
          5699, 5698, 5697, 5696, 5695, 5694, 5693, 5692, 5691, 5690, 5689, 5688, 5687, 5686, 5685, 5684, 5683, 5682, 5681, 5680,
          5678, 5675]
samples = [s5739, s5737, s5736, s5735, s5734, s5733, s5732, s5731, s5730, s5729, s5728, s5727, s5726, s5725, s5724, s5723, s5722, s5721, s5720,
           s5719, s5718, s5717, s5716, s5715, s5714, s5713, s5712, s5711, s5710, s5709, s5708, s5707, s5706, s5705, s5704, s5703, s5702, s5701, s5700,
           s5699, s5698, s5697, s5696, s5695, s5694, s5693, s5692, s5691, s5690, s5689, s5688, s5687, s5686, s5685, s5684, s5683, s5682, s5681, s5680,
           s5678, s5675]

x = []
y = []
for level, row in zip(levels, samples):
    x.extend(row)
    y.extend([level] * len(row))

plt.figure(figsize=(10, 10))
plt.plot(x, y, 'k.', label='Samples\n$\\mu$ = 5708.64, $\\sigma$ = 8.45')
plt.title('Run 482, channel085, Pedestal')
plt.xlabel('Sample #')
plt.ylabel('ADC Counts')
plt.xlim(-482, 10422)
plt.grid(True)
plt.legend(loc='upper right')
plt.subplots_adjust(left=0.081, right=0.985, top=0.965, bottom=0.059)
plt.savefig('out.png', dpi=100)
